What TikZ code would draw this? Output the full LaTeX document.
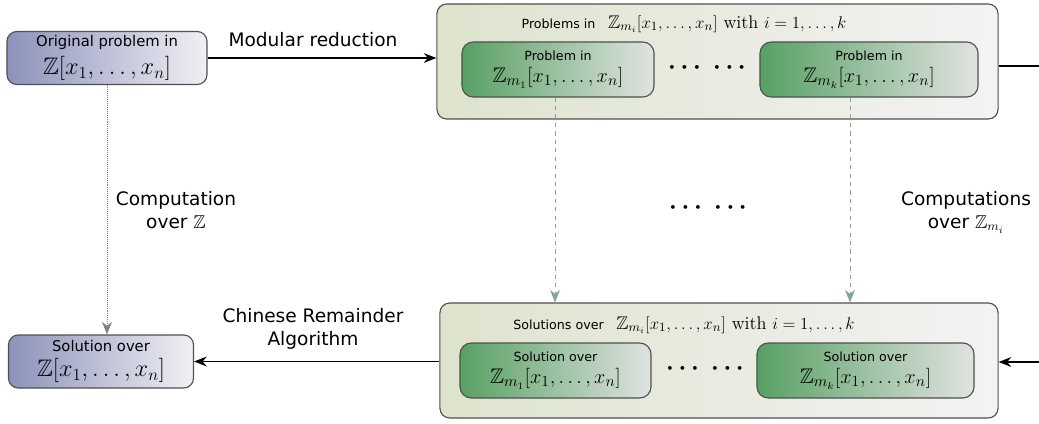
\documentclass[tikz,border=0pt]{standalone}
\usepackage{amssymb}
\usepackage[no-math]{fontspec}
\setsansfont{DejaVu Sans}
\usetikzlibrary{arrows.meta}

\definecolor{bluel}{RGB}{140,146,186}
\definecolor{bluer}{RGB}{240,240,244}
\definecolor{outl}{RGB}{222,227,205}
\definecolor{outr}{RGB}{243,243,243}
\definecolor{greenl}{RGB}{88,160,100}
\definecolor{greenr}{RGB}{224,227,224}
\definecolor{edgegray}{RGB}{80,80,80}
\definecolor{dashgreen}{RGB}{130,165,150}

\newcommand{\bigmath}{\fontsize{17}{20}\selectfont}
\newcommand{\midmath}{\fontsize{15}{18}\selectfont}
\newcommand{\lblfont}{\fontsize{13.2}{16.5}\selectfont}

\tikzset{
  zbox/.style={draw=edgegray, line width=0.8pt, rounded corners=7pt, left color=bluel, right color=bluer, align=center, font=\sffamily\fontsize{10.5}{12}\selectfont, minimum height=1.325cm, inner sep=1pt},
  outerbox/.style={draw=edgegray, line width=0.8pt, rounded corners=7pt, left color=outl, right color=outr, minimum height=2.875cm},
  modbox/.style={draw=edgegray, line width=0.8pt, rounded corners=8pt, left color=greenl, right color=greenr, align=center, font=\sffamily\small, minimum height=1.375cm, inner sep=1pt},
  lbl/.style={align=center, font=\sffamily\lblfont},
  ttl/.style={font=\sffamily\small},
  dotsrow/.style={font=\LARGE\boldmath}
}

\begin{document}
\begin{tikzpicture}[x=0.025cm, y=-0.025cm, >={Stealth[length=9pt,width=7pt,inset=3pt]}]
	\useasboundingbox (0,0) rectangle (1039,423);

	% left column
	\node(orig) at (107,58)[zbox, minimum width=5cm]{Original problem in\\[4pt] \bigmath$\mathbb{Z}[x_1,\ldots,x_n]$};
	\node(sol) at (101,361.5)[zbox, minimum width=4.625cm]{Solution over\\[4pt] \bigmath$\mathbb{Z}[x_1,\ldots,x_n]$};

	% modular problems
	\node(top) at (717.5,61.5)[outerbox, minimum width=14.025cm]{};
	\node(toptitle) at (684,24)[ttl]{Problems in\quad {\fontsize{13}{15}\selectfont$\mathbb{Z}_{m_i}[x_1,\ldots,x_n]$ \textrm{with} $i=1,\ldots,k$}};
	\node(tl) at (558,69.5)[modbox, minimum width=4.8cm]{Problem in\\[5pt] \midmath$\mathbb{Z}_{m_1}[x_1,\ldots,x_n]$};
	\node(tr) at (869,69.5)[modbox, minimum width=5.45cm]{Problem in\\[5pt] \midmath$\mathbb{Z}_{m_k}[x_1,\ldots,x_n]$};
	\node(tdots) at (707,68)[dotsrow]{$\cdots\;\cdots$};

	% modular solutions
	\node(bot) at (719,360.5)[outerbox, minimum width=13.95cm]{};
	\node(bottitle) at (684,325)[ttl]{Solutions over\quad {\fontsize{13}{15}\selectfont$\mathbb{Z}_{m_i}[x_1,\ldots,x_n]$ \textrm{with} $i=1,\ldots,k$}};
	\node(bl) at (555.5,370.5)[modbox, minimum width=4.775cm]{Solution over\\[5pt] \midmath$\mathbb{Z}_{m_1}[x_1,\ldots,x_n]$};
	\node(br) at (865.5,370.5)[modbox, minimum width=5.425cm]{Solution over\\[5pt] \midmath$\mathbb{Z}_{m_k}[x_1,\ldots,x_n]$};
	\node(bdots) at (705,369)[dotsrow]{$\cdots\;\cdots$};

	\node(mdots) at (708,208)[dotsrow]{$\cdots\;\cdots$};

	% labels
	\node(modred) at (313,40)[lbl]{Modular reduction};
	\node(cra) at (313,329)[lbl]{Chinese Remainder\\Algorithm};
	\node(compz) at (176,210)[lbl]{Computation\\over $\mathbb{Z}$};
	\node(compm) at (966,212)[lbl]{Computations\\over $\mathbb{Z}_{m_i}$};

	\coordinate(outR) at (1039,66);
	\coordinate(inR) at (1039,362);

	% connectors
		\draw[->, line width=0.9pt] (orig.east) -- (orig.east -| top.west);
		\draw[->, densely dotted, draw=gray] (orig.south) -- (orig.south |- sol.north);
		\draw[->, dashed, draw=dashgreen] ([xshift=-0.075cm]tl.south) -- ([xshift=-0.075cm]tl.south |- bot.north);
		\draw[->, dashed, draw=dashgreen] ([xshift=-0.475cm]tr.south) -- ([xshift=-0.475cm]tr.south |- bot.north);
		\draw[->, line width=0.9pt] (bot.west |- sol.east) -- (sol.east);
		\draw[line width=0.9pt] (top.east |- outR) -- (outR);
		\draw[->, line width=0.9pt] (inR) -- (bot.east |- inR);

\end{tikzpicture}
\end{document}
